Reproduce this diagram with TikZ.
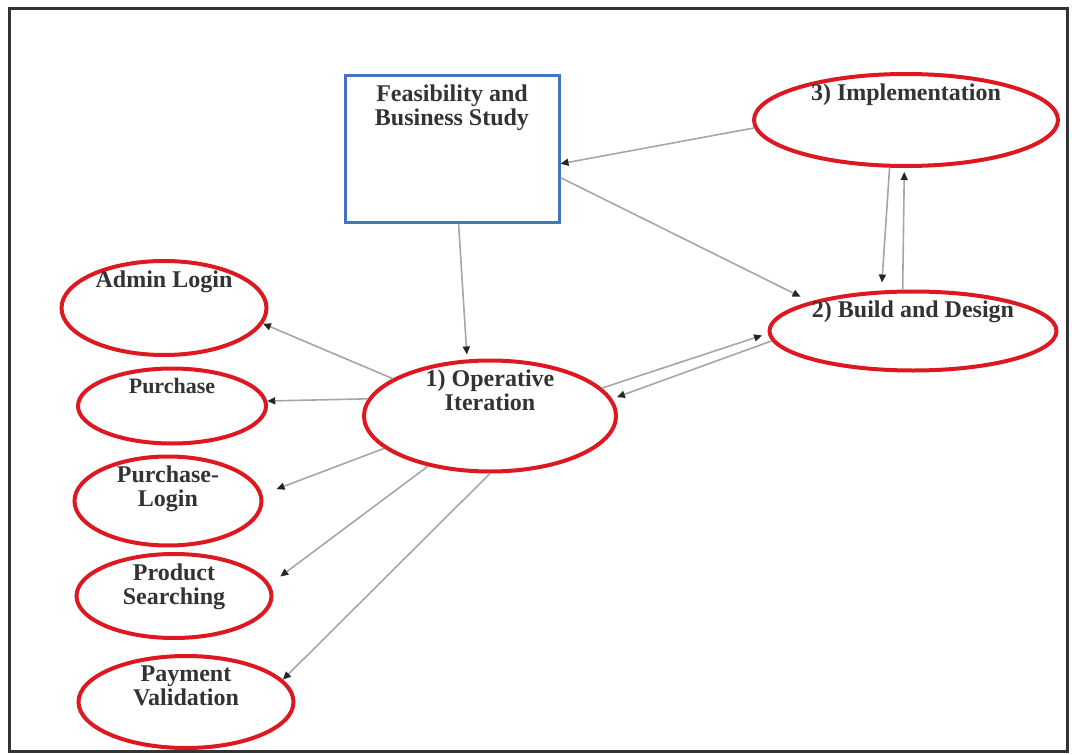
\documentclass[tikz,border=0pt]{standalone}
\usepackage{fontspec}
\setmainfont{Liberation Serif}
\usetikzlibrary{arrows.meta,shapes.geometric}
\definecolor{phasered}{RGB}{222,24,32}
\definecolor{studyblue}{RGB}{68,114,196}

\begin{document}
\begin{tikzpicture}[x=0.5pt,y=-0.5pt,>={Triangle[length=4pt,width=3.5pt,color=black!85]},
  stage/.style={ellipse,draw=phasered,line width=2pt,inner sep=0pt},
  study/.style={rectangle,draw=studyblue,line width=1.5pt,inner sep=0pt},
  caption/.style={below=5.5pt,inner sep=0pt,align=center,text=black!80,font=\bfseries\fontsize{12}{12}\selectfont},
  link/.style={->,draw=gray!70,line width=0.8pt}]
  \useasboundingbox (0,0) rectangle (1072,755);
  \draw[black!80,line width=1.5pt] (9,8) rectangle (1067,751);

  \node[study,minimum width=107pt,minimum height=73.5pt,label={[caption]north:{Feasibility and\\Business Study}}](feas) at (452,148.5){};
  \node[stage,minimum width=152pt,minimum height=46pt,label={[caption]north:{3) Implementation}}](impl) at (906,120){};
  \node[stage,minimum width=143.5pt,minimum height=39.5pt,label={[caption]north:{2) Build and Design}}](build) at (913,331){};
  \node[stage,minimum width=126pt,minimum height=55.5pt,label={[caption]north:{1) Operative\\Iteration}}](oper) at (490,416){};
  \node[stage,minimum width=102.5pt,minimum height=47pt,label={[caption]north:{Admin Login}}](admin) at (164,308){};
  \node[stage,minimum width=94pt,minimum height=37.5pt,label={[caption,font=\bfseries\fontsize{11}{12}\selectfont]north:{Purchase}}](purch) at (172,406){};
  \node[stage,minimum width=93.5pt,minimum height=44.5pt,label={[caption]north:{Purchase-\\Login}}](plogin) at (168,501){};
  \node[stage,minimum width=97.5pt,minimum height=42pt,label={[caption]north:{Product\\Searching}}](search) at (174,596){};
  \node[stage,minimum width=107.5pt,minimum height=46pt,label={[caption]north:{Payment\\Validation}}](pay) at (186,702){};

  % phases
  \draw[link,shorten >=2.5pt] (feas.275) -- (oper.112);
  \draw[link] (impl.183) -- (feas.-8);
  \draw[link,shorten >=5.5pt] (feas.-15) -- (build.164);
  \draw[link,shorten >=4pt] (impl.251) -- (build.128);
  \draw[link,shorten >=2pt] (build.104) -- (impl.268);
  \draw[link,shorten >=3pt] (oper.14) -- (build.181);
  \draw[link,shorten >=2.5pt] (build.184) -- (oper.8);

  % modules
  \draw[link] (oper.159) -- (admin.-9);
  \draw[link] (oper.172) -- (purch.3);
  \draw[link,shorten >=7.5pt] (oper.197) -- (plogin.4);
  \draw[link,shorten >=6.5pt] (oper.219) -- (search.7);
  \draw[link] (oper.270) -- (pay.13);
\end{tikzpicture}
\end{document}
